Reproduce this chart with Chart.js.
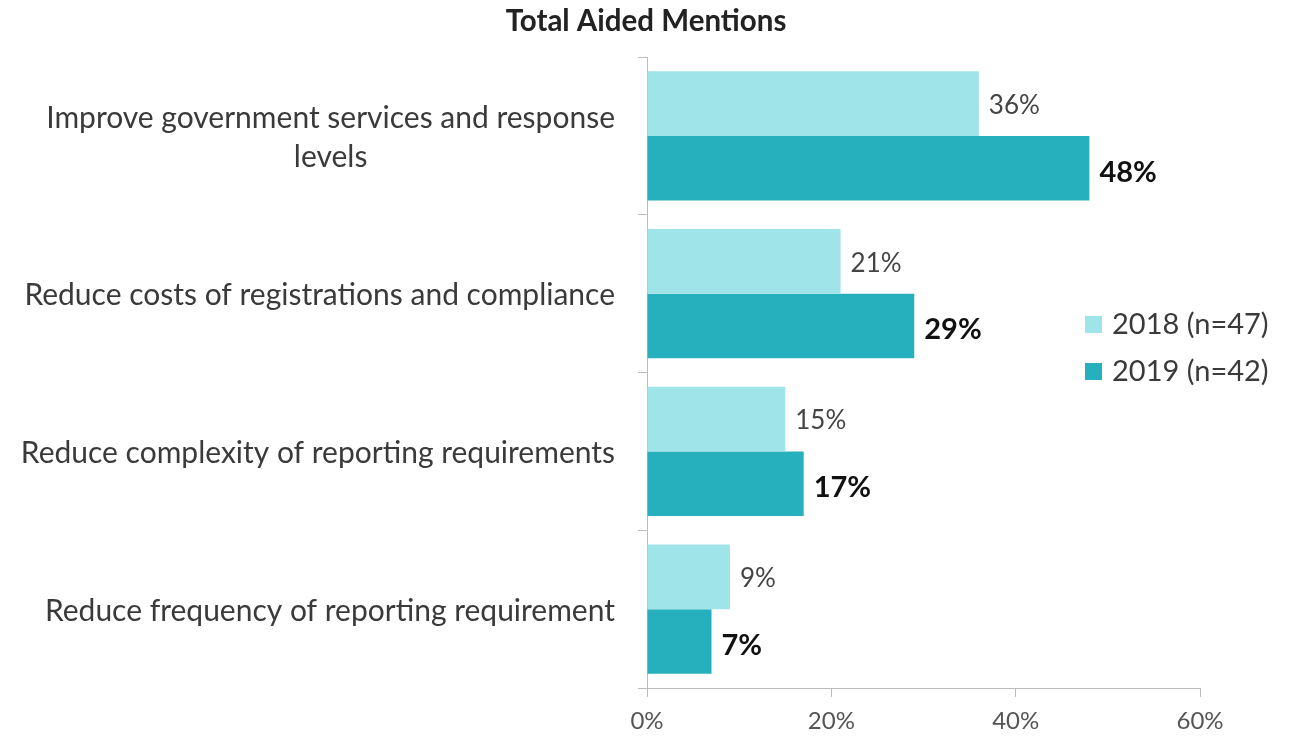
<!DOCTYPE html>
<html>
<head>
<meta charset="utf-8">
<script src="https://cdn.jsdelivr.net/npm/chart.js@4.4.1/dist/chart.umd.min.js"></script>
<style>
  html, body { margin: 0; padding: 0; background: #fff; }
  #wrap { width: 1292px; height: 736px; }
</style>
</head>
<body>
<div id="wrap"><canvas id="myChart"></canvas></div>
<script>
const categories = [
  ["Improve government services and response", "levels"],
  "Reduce costs of registrations and compliance",
  "Reduce complexity of reporting requirements",
  "Reduce frequency of reporting requirement",
];
const values2018 = [36, 21, 15, 9];
const values2019 = [48, 29, 17, 7];
const seriesLabels = ["2018 (n=47)", "2019 (n=42)"];
const chartTitle = "Total Aided Mentions";
const xMax = 60;
const xStep = 20;

const FONT = "Lato";
const lightTeal = "#9fe4e9";
const darkTeal = "#26b0bd";

// title centred on the whole canvas, not the plot
const pageTitle = {
  id: "pageTitle",
  afterDraw(chart) {
    const ctx = chart.ctx;
    ctx.save();
    ctx.font = "bold 29.5px " + FONT;
    ctx.fillStyle = "#222";
    ctx.textAlign = "center";
    ctx.textBaseline = "middle";
    ctx.fillText(chartTitle, chart.width / 2, 21);
    ctx.restore();
  },
};

// category labels: lines centred within a block that is right aligned
const yLabels = {
  id: "yLabels",
  afterDraw(chart) {
    const ctx = chart.ctx;
    const y = chart.scales.y;
    const right = chart.chartArea.left - 32;
    ctx.save();
    ctx.font = "30px " + FONT;
    ctx.fillStyle = "#3a3a3a";
    ctx.textAlign = "center";
    ctx.textBaseline = "middle";
    categories.forEach((cat, i) => {
      const lines = Array.isArray(cat) ? cat : [cat];
      const w = Math.max(...lines.map((l) => ctx.measureText(l).width));
      const cy = y.getPixelForTick(i) + 2;
      lines.forEach((l, j) => {
        ctx.fillText(l, right - w / 2, cy + (j - (lines.length - 1) / 2) * 39);
      });
    });
    ctx.restore();
  },
};

// value labels at bar ends
const barValues = {
  id: "barValues",
  afterDatasetsDraw(chart) {
    const ctx = chart.ctx;
    ctx.save();
    ctx.textBaseline = "middle";
    ctx.textAlign = "left";
    chart.data.datasets.forEach((ds, di) => {
      const meta = chart.getDatasetMeta(di);
      ctx.font = di === 1 ? "bold 29px " + FONT : "26px " + FONT;
      ctx.fillStyle = di === 1 ? "#111" : "#444";
      meta.data.forEach((bar, i) => {
        ctx.fillText(ds.data[i] + "%", bar.x + 10, bar.y + (di === 1 ? 4 : 2));
      });
    });
    ctx.restore();
  },
};

// legend on the right, over the empty part of the plot
const sideLegend = {
  id: "sideLegend",
  afterDraw(chart) {
    const ctx = chart.ctx;
    const x = chart.width - 207;
    const ys = [324, 371];
    ctx.save();
    ctx.font = "29px " + FONT;
    ctx.textBaseline = "middle";
    ctx.textAlign = "left";
    chart.data.datasets.forEach((ds, i) => {
      ctx.fillStyle = ds.backgroundColor;
      ctx.fillRect(x, ys[i] - 8, 17, 17);
      ctx.fillStyle = "#3a3a3a";
      ctx.fillText(ds.label, x + 27, ys[i] + 1);
    });
    ctx.restore();
  },
};

const chart = new Chart(document.getElementById("myChart"), {
  type: "bar",
  data: {
    labels: categories,
    datasets: [
      {
        label: seriesLabels[0],
        data: values2018,
        backgroundColor: lightTeal,
        categoryPercentage: 0.82,
        barPercentage: 1.0,
      },
      {
        label: seriesLabels[1],
        data: values2019,
        backgroundColor: darkTeal,
        categoryPercentage: 0.82,
        barPercentage: 1.0,
      },
    ],
  },
  options: {
    indexAxis: "y",
    responsive: true,
    maintainAspectRatio: false,
    animation: false,
    layout: { padding: { left: 638, right: 92, top: 57, bottom: 0 } },
    scales: {
      x: {
        min: 0,
        max: xMax,
        afterFit: (scale) => { scale.height = 48; },
        ticks: {
          stepSize: xStep,
          padding: 10,
          color: "#555",
          font: { family: FONT, size: 24 },
          callback: (v) => v + "%",
        },
        grid: { drawOnChartArea: false, drawTicks: true, tickLength: 9, color: "#bdbdbd" },
        border: { color: "#bdbdbd" },
      },
      y: {
        ticks: { display: false },
        grid: { drawOnChartArea: false, drawTicks: true, tickLength: 9, color: "#bdbdbd", offset: true },
        border: { color: "#bdbdbd" },
      },
    },
    plugins: {
      legend: { display: false },
      tooltip: { enabled: false },
      title: { display: false },
    },
  },
  plugins: [pageTitle, yLabels, barValues, sideLegend],
});
</script>
</body>
</html>
